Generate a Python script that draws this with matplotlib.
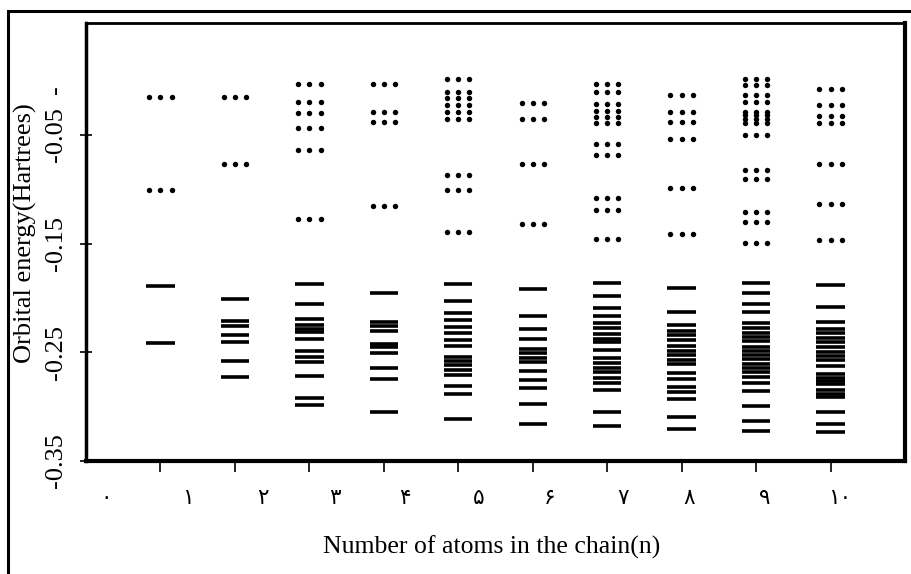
import matplotlib.pyplot as plt
from matplotlib.patches import Rectangle

# orbital energies (Hartrees)
# occupied levels -> solid bars, virtual levels -> dotted bars
occ_1 = [-0.189, -0.241]
occ_2 = [-0.201, -0.221, -0.226, -0.234, -0.2405, -0.258, -0.273]
occ_3 = [-0.187, -0.206, -0.219, -0.225, -0.229, -0.231, -0.238, -0.249, -0.254, -0.259,
         -0.272, -0.292, -0.2985]
occ_4 = [-0.195, -0.222, -0.226, -0.230, -0.242, -0.245, -0.2503, -0.264, -0.275, -0.3046]
occ_5 = [-0.187, -0.2025, -0.214, -0.220, -0.2264, -0.2325, -0.2386, -0.2442, -0.254, -0.258,
         -0.262, -0.266, -0.271, -0.281, -0.288, -0.3116]
occ_6 = [-0.192, -0.217, -0.229, -0.238, -0.247, -0.251, -0.255, -0.259, -0.267, -0.2755,
         -0.2825, -0.298, -0.316]
occ_7 = [-0.1865, -0.198, -0.2095, -0.217, -0.2233, -0.228, -0.233, -0.238, -0.2402, -0.248,
         -0.2555, -0.260, -0.264, -0.268, -0.274, -0.2785, -0.285, -0.3046, -0.318]
occ_8 = [-0.1905, -0.2126, -0.2248, -0.230, -0.2343, -0.2386, -0.2442, -0.2485, -0.2525,
         -0.2567, -0.2607, -0.2687, -0.2742, -0.2816, -0.2862, -0.2932, -0.3092, -0.3205]
occ_9 = [-0.186, -0.1957, -0.2055, -0.2132, -0.2227, -0.228, -0.232, -0.236, -0.240, -0.245,
         -0.2485, -0.2525, -0.2565, -0.2605, -0.2645, -0.2685, -0.273, -0.278, -0.286,
         -0.2994, -0.313, -0.3224]
occ_10 = [-0.188, -0.2086, -0.2218, -0.2285, -0.2325, -0.2365, -0.2405, -0.2452, -0.2494,
          -0.2535, -0.2575, -0.2626, -0.270, -0.274, -0.2765, -0.279, -0.2847, -0.288,
          -0.2914, -0.3049, -0.316, -0.3236]

virt_1 = [-0.0153, -0.1006]
virt_2 = [-0.015, -0.0767]
virt_3 = [-0.0028, -0.0194, -0.0298, -0.0433, -0.0635, -0.1276]
virt_4 = [-0.0033, -0.0286, -0.0378, -0.115]
virt_5 = [0.0018, -0.0104, -0.0162, -0.0224, -0.0291, -0.0356, -0.0868, -0.1006, -0.1395]
virt_6 = [-0.0208, -0.0353, -0.0767, -0.1319]
virt_7 = [-0.0033, -0.0106, -0.0217, -0.0276, -0.0337, -0.0387, -0.0586, -0.0687, -0.1083,
          -0.119, -0.146]
virt_8 = [-0.0129, -0.0286, -0.0378, -0.0537, -0.099, -0.1411]
virt_9 = [0.0015, -0.004, -0.0132, -0.0199, -0.0286, -0.032, -0.0355, -0.039, -0.05,
          -0.0822, -0.0908, -0.1206, -0.1303, -0.1497]
virt_10 = [-0.0079, -0.0224, -0.0322, -0.0387, -0.0767, -0.1135, -0.1466]

n_atoms = [1, 2, 3, 4, 5, 6, 7, 8, 9, 10]
x_labels = ['۰', '۱', '۲', '۳', '۴', '۵', '۶', '۷', '۸', '۹', '۱۰']
y_ticks = [-0.35, -0.25, -0.15, -0.05]

occupied = [occ_1, occ_2, occ_3, occ_4, occ_5, occ_6, occ_7, occ_8, occ_9, occ_10]
virtual = [virt_1, virt_2, virt_3, virt_4, virt_5, virt_6, virt_7, virt_8, virt_9, virt_10]

serif = ['Liberation Serif', 'DejaVu Serif']

fig = plt.figure(figsize=(9.11, 5.74), dpi=100)
ax = fig.add_axes([86 / 911, 1 - 461 / 574, (905 - 86) / 911, (461 - 23) / 574])

for n, levels in zip(n_atoms, occupied):
    ax.hlines(levels, n - 0.19, n + 0.19, colors='black', linewidth=2.6)

for n, levels in zip(n_atoms, virtual):
    for dx in (-0.15, 0, 0.15):
        ax.plot([n + dx] * len(levels), levels, 'o', color='black', markersize=3.9,
                markeredgewidth=0)

ax.set_xlim(0, 11)
ax.set_ylim(-0.35, 0.053)

ax.set_xticks(n_atoms)
ax.set_xticklabels([])
ax.tick_params(axis='x', direction='out', length=8, width=1.2)
ax.set_yticks(y_ticks)
ax.set_yticklabels([])
ax.tick_params(axis='y', direction='inout', length=8, width=1.2)

for side, lw in [('left', 2.5), ('bottom', 3), ('right', 3), ('top', 2)]:
    ax.spines[side].set_linewidth(lw)

# tick labels written by hand (rotated numbers, Persian digits)
for v in y_ticks:
    ax.text(-0.4, v, '%.2f' % v, rotation=90, ha='center', va='center',
            fontsize=19, family=serif, clip_on=False)
ax.text(-0.4, -0.008, '-', rotation=90, ha='center', va='center',
        fontsize=19, family=serif, clip_on=False)

label_x = [0.27, 1.37, 2.37, 3.35, 4.29, 5.28, 6.22, 7.21, 8.10, 9.11, 10.12]
for xv, lab in zip(label_x, x_labels):
    ax.text(xv, -0.384, lab, ha='center', va='center', fontsize=15.5,
            family=['DejaVu Sans'], clip_on=False)

fig.text(492 / 911, 1 - 547 / 574, 'Number of atoms in the chain(n)', ha='center',
         va='center', fontsize=18.5, family=serif)
fig.text(25 / 911, 1 - 233 / 574, 'Orbital energy(Hartrees)', ha='center', va='center',
         rotation=90, fontsize=19, family=serif)

# outer frame of the figure
fig.patches.append(Rectangle((8 / 911, -0.05), 1.0, 1 - 11 / 574 + 0.05,
                             transform=fig.transFigure, fill=False, edgecolor='black',
                             linewidth=2.2))

fig.savefig('out.png', dpi=100)
